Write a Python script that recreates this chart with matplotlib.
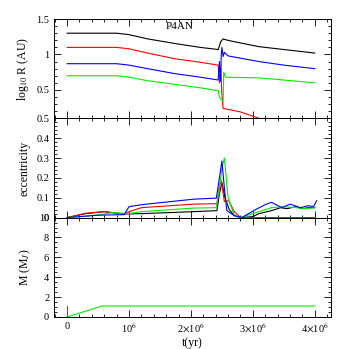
import numpy as np
import matplotlib
matplotlib.use("Agg")
import matplotlib.pyplot as plt
from matplotlib.ticker import MultipleLocator, FixedLocator

plt.rcParams['font.family'] = ['Liberation Serif', 'DejaVu Serif']
plt.rcParams['mathtext.fontset'] = 'stix'

# ---- top panel: log10 R (AU) ----
tR_black = [0, 0.8e6, 1.0e6, 1.3e6, 1.74e6, 2.15e6, 2.44e6, 2.46e6, 2.48e6, 2.5e6, 2.52e6, 2.55e6, 2.7e6, 3.1e6, 3.5e6, 4.0e6]
R_black = [1.3, 1.3, 1.28, 1.22, 1.155, 1.10, 1.07, 1.12, 1.18, 1.2, 1.22, 1.21, 1.18, 1.11, 1.07, 1.02]

tR_red = [0, 0.8e6, 1.0e6, 1.3e6, 1.74e6, 2.15e6, 2.44e6, 2.46e6, 2.48e6, 2.5e6, 2.52e6, 2.8e6, 3.1e6, 3.3e6]
R_red = [1.1, 1.1, 1.08, 1.02, 0.94, 0.89, 0.85, 0.6, 0.8, 0.45, 0.24, 0.19, 0.10, 0.06]

tR_blue = [0, 0.8e6, 1.0e6, 1.3e6, 1.74e6, 2.15e6, 2.44e6, 2.46e6, 2.48e6, 2.49e6, 2.5e6, 2.52e6, 2.54e6, 2.6e6, 3.1e6, 3.5e6, 4.0e6]
R_blue = [0.87, 0.87, 0.85, 0.80, 0.73, 0.68, 0.64, 0.9, 0.62, 1.0, 1.1, 0.97, 1.03, 0.98, 0.9, 0.85, 0.8]

tR_green = [0, 0.8e6, 1.0e6, 1.3e6, 1.74e6, 2.15e6, 2.44e6, 2.46e6, 2.49e6, 2.52e6, 2.53e6, 2.56e6, 3.1e6, 3.5e6, 4.0e6]
R_green = [0.7, 0.7, 0.68, 0.63, 0.58, 0.53, 0.49, 0.40, 0.36, 0.34, 0.75, 0.68, 0.67, 0.64, 0.6]

# ---- middle panel: eccentricity ----
te_black = [0, 0.3e6, 0.6e6, 0.92e6, 1.2e6, 2.05e6, 2.42e6, 2.46e6, 2.5e6, 2.55e6, 2.62e6, 2.7e6, 2.8e6, 3.0e6, 3.1e6, 3.3e6, 3.45e6, 3.55e6, 3.7e6, 3.8e6, 3.9e6, 4.0e6]
e_black = [0, 0.02, 0.03, 0.018, 0.02, 0.03, 0.035, 0.12, 0.177, 0.1, 0.04, 0.01, 0.0, 0.005, 0.02, 0.035, 0.05, 0.045, 0.055, 0.045, 0.05, 0.05]

te_red = [0, 0.3e6, 0.6e6, 0.92e6, 1.0e6, 1.2e6, 2.05e6, 2.42e6, 2.46e6, 2.49e6, 2.54e6, 2.61e6, 2.7e6, 2.8e6, 4.0e6]
e_red = [0, 0.022, 0.03, 0.018, 0.03, 0.05, 0.068, 0.07, 0.16, 0.185, 0.08, 0.085, 0.03, 0.0, 0.0]

te_blue = [0, 0.5e6, 0.92e6, 1.0e6, 1.2e6, 2.05e6, 2.41e6, 2.46e6, 2.5e6, 2.54e6, 2.58e6, 2.7e6, 2.82e6, 3.06e6, 3.2e6, 3.3e6, 3.47e6, 3.6e6, 3.77e6, 3.9e6, 3.98e6, 4.03e6]
e_blue = [0, 0.012, 0.015, 0.055, 0.065, 0.093, 0.098, 0.2, 0.285, 0.15, 0.035, 0.01, 0.0, 0.043, 0.065, 0.077, 0.05, 0.068, 0.05, 0.06, 0.055, 0.085]

te_green = [0, 0.5e6, 0.73e6, 1.0e6, 1.2e6, 2.05e6, 2.41e6, 2.46e6, 2.5e6, 2.54e6, 2.6e6, 2.7e6, 2.8e6, 3.1e6, 3.3e6, 3.5e6, 3.7e6, 3.85e6, 4.0e6]
e_green = [0, 0.013, 0.025, 0.02, 0.03, 0.048, 0.05, 0.15, 0.25, 0.3, 0.1, 0.01, 0.0, 0.03, 0.05, 0.055, 0.05, 0.045, 0.05]

# ---- bottom panel: mass ----
tM_green = [0, 0.57e6, 4.0e6]
M_green = [0, 1.1, 1.1]
tM_dgreen = [0, 0]
M_dgreen = [0, 1.1]

fig = plt.figure(figsize=(3.49, 3.49), dpi=100)
left, width = 0.155, 0.793
bottom, h = 0.092, 0.2845
ax3 = fig.add_axes([left, bottom, width, h])
ax2 = fig.add_axes([left, bottom + h, width, h], sharex=ax3)
ax1 = fig.add_axes([left, bottom + 2 * h, width, h], sharex=ax3)

lw = 0.8
ax1.plot(tR_black, R_black, color='black', lw=lw)
ax1.plot(tR_red, R_red, color='red', lw=lw)
ax1.plot(tR_blue, R_blue, color='blue', lw=lw)
ax1.plot(tR_green, R_green, color='#00ee00', lw=lw)
ax1.set_ylim(0.1, 1.5)
ax1.set_ylabel(r'log$_{10}$ R (AU)', fontsize=8.5)
ax1.yaxis.set_major_locator(FixedLocator([0.5, 1.0, 1.5]))
ax1.set_yticklabels(['0.5', '1', '1.5'])
ax1.yaxis.set_minor_locator(MultipleLocator(0.1))
ax1.text(0.455, 0.92, 'P4AN', transform=ax1.transAxes, ha='center', va='center', fontsize=8)

ax2.plot(te_black, e_black, color='black', lw=lw)
ax2.plot(te_red, e_red, color='red', lw=lw)
ax2.plot(te_green, e_green, color='#00ee00', lw=lw)
ax2.plot(te_blue, e_blue, color='blue', lw=lw)
ax2.set_ylim(0, 0.5)
ax2.set_ylabel('eccentricity', fontsize=8.5)
ax2.yaxis.set_major_locator(FixedLocator([0, 0.1, 0.2, 0.3, 0.4, 0.5]))
ax2.set_yticklabels(['0', '0.1', '0.2', '0.3', '0.4', '0.5'])
ax2.yaxis.set_minor_locator(MultipleLocator(0.02))

ax3.plot(tM_green, M_green, color='#00ee00', lw=lw)
ax3.plot(tM_dgreen, M_dgreen, color='#009900', lw=lw)
ax3.set_ylim(0, 10)
ax3.set_ylabel(r'M (M$_J$)', fontsize=8.5)
ax3.yaxis.set_major_locator(MultipleLocator(2))
ax3.yaxis.set_minor_locator(MultipleLocator(0.5))
ax3.set_xlim(-0.21e6, 4.26e6)
ax3.xaxis.set_major_locator(FixedLocator([0, 1e6, 2e6, 3e6, 4e6]))
ax3.set_xticklabels(['0', r'10$^6$', r'2$\times$10$^6$', r'3$\times$10$^6$', r'4$\times$10$^6$'])
ax3.xaxis.set_minor_locator(MultipleLocator(0.2e6))
ax3.set_xlabel('t(yr)', fontsize=8.5, labelpad=1)

for ax in (ax1, ax2, ax3):
    ax.tick_params(which='both', direction='in', top=True, right=True, labelsize=7.5, width=0.6)
    ax.tick_params(which='major', length=5)
    ax.tick_params(which='minor', length=2.5)
    for s in ax.spines.values():
        s.set_linewidth(0.7)
for ax in (ax1, ax2):
    plt.setp(ax.get_xticklabels(), visible=False)

fig.savefig('out.png', dpi=100)
